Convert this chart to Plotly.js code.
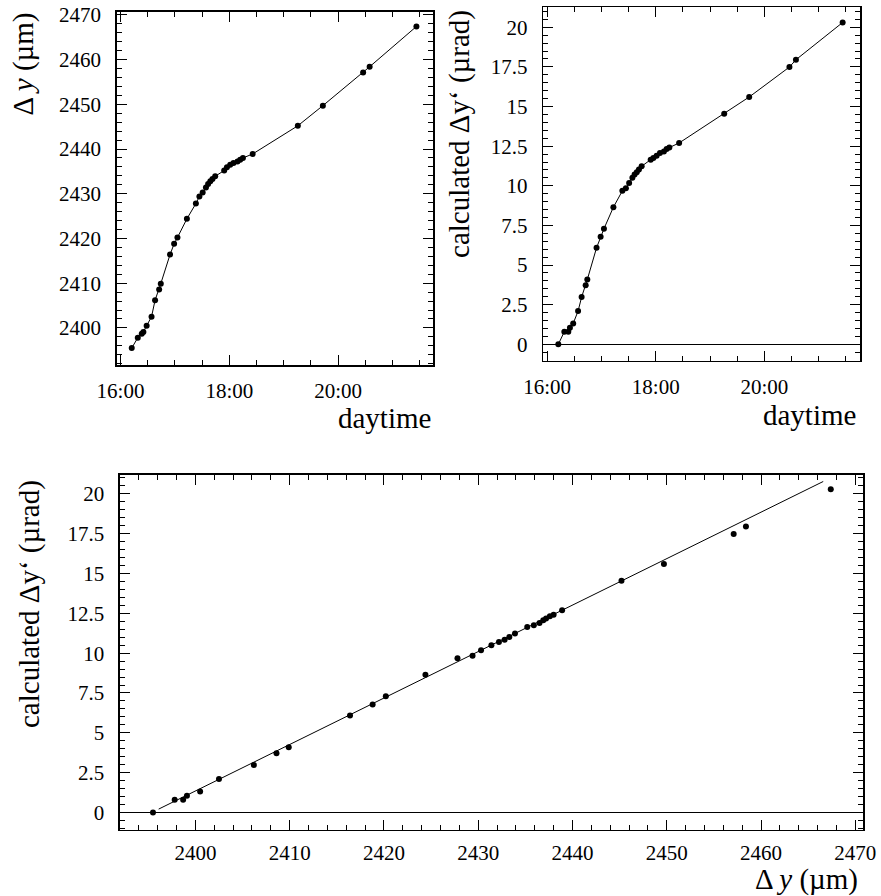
<!DOCTYPE html>
<html>
<head>
<meta charset="utf-8">
<script src="https://cdn.plot.ly/plotly-3.0.1.min.js"></script>
<style>html,body{margin:0;padding:0;background:#fff;}#chart{width:881px;height:896px;}</style>
</head>
<body>
<div id="chart"></div>
<script>
// time of day (decimal hours)
const time = [16.206,16.317,16.39,16.42,16.48,16.57,16.635,16.71,16.74,16.91,16.985,17.046,17.22,17.385,17.45,17.51,17.57,17.61,17.65,17.69,17.74,17.906,17.956,18.016,18.077,18.15,18.2,18.25,18.43,19.26,19.72,20.46,20.58,21.44];
// measured Δy (µm)
const dy = [2395.5,2397.8,2398.7,2399.1,2400.5,2402.5,2406.2,2408.6,2409.9,2416.4,2418.8,2420.2,2424.4,2427.8,2429.4,2430.3,2431.4,2432.2,2432.8,2433.3,2433.9,2435.2,2435.9,2436.5,2436.9,2437.2,2437.6,2438.0,2438.9,2445.2,2449.7,2457.1,2458.4,2467.4];
// calculated Δy' (µrad)
const dyp = [0,0.80,0.80,1.05,1.32,2.10,2.98,3.72,4.09,6.09,6.78,7.29,8.65,9.68,9.84,10.18,10.50,10.71,10.85,11.02,11.23,11.65,11.76,11.90,12.07,12.17,12.32,12.41,12.70,14.55,15.60,17.49,17.95,20.3];
// straight-line fit in the lower panel
const fitX = [2396.1, 2466.6];
const fitY = [0.21, 20.78];
// tick labels
const timeTicks = [16, 18, 20];
const timeLabels = ['16:00', '18:00', '20:00'];

const FONT = 'Liberation Serif';
const mk = {color: '#000', size: 6};
const ln = {color: '#000', width: 1};

const traces = [
  {x: time, y: dy, xaxis: 'x', yaxis: 'y', type: 'scatter', mode: 'lines+markers', marker: mk, line: ln},
  {x: time, y: dyp, xaxis: 'x2', yaxis: 'y2', type: 'scatter', mode: 'lines+markers', marker: mk, line: ln},
  {x: dy, y: dyp, xaxis: 'x3', yaxis: 'y3', type: 'scatter', mode: 'markers', marker: mk},
  {x: fitX, y: fitY, xaxis: 'x3', yaxis: 'y3', type: 'scatter', mode: 'lines', line: ln}
];

function ax(extra) {
  return Object.assign({
    showline: true, linecolor: '#000', linewidth: 1.5, mirror: 'ticks',
    ticks: 'inside', ticklen: 10, tickwidth: 1, tickcolor: '#000',
    showgrid: false, zeroline: false,
    tickfont: {family: FONT, size: 21, color: '#000'},
    minor: {ticks: 'inside', ticklen: 5, tickwidth: 1, tickcolor: '#000', showgrid: false}
  }, extra);
}

const layout = {
  width: 881, height: 896, autosize: false,
  margin: {l: 0, r: 0, t: 0, b: 0},
  paper_bgcolor: '#fff', plot_bgcolor: '#fff',
  showlegend: false,
  font: {family: FONT, color: '#000'},
  xaxis: ax({domain: [0.1325, 0.4918], range: [15.93, 21.75], anchor: 'y',
    tickmode: 'array', tickvals: timeTicks, ticktext: timeLabels, ticklabelstandoff: 6,
    minor: {ticks: 'inside', ticklen: 5, tickwidth: 1, tickcolor: '#000', tick0: 16, dtick: 0.5}}),
  yaxis: ax({domain: [0.5926, 0.9869], range: [2391.7, 2470.7], anchor: 'x',
    dtick: 10, tick0: 2400, ticklabelstandoff: 10,
    minor: {ticks: 'inside', ticklen: 5, tickwidth: 1, tickcolor: '#000', dtick: 2}}),
  xaxis2: ax({domain: [0.6167, 0.9762], range: [15.93, 21.76], anchor: 'y2',
    tickmode: 'array', tickvals: timeTicks, ticktext: timeLabels, ticklabelstandoff: 6,
    minor: {ticks: 'inside', ticklen: 5, tickwidth: 1, tickcolor: '#000', tick0: 16, dtick: 0.5}}),
  yaxis2: ax({domain: [0.5971, 0.9919], range: [-1.05, 21.26], anchor: 'x2',
    dtick: 2.5, tick0: 0, ticklabelstandoff: 10,
    zeroline: true, zerolinecolor: '#000', zerolinewidth: 1,
    minor: {ticks: 'inside', ticklen: 5, tickwidth: 1, tickcolor: '#000', dtick: 0.5}}),
  xaxis3: ax({domain: [0.1362, 0.9799], range: [2392, 2470.85], anchor: 'y3',
    dtick: 10, tick0: 2400, ticklabelstandoff: 3,
    minor: {ticks: 'inside', ticklen: 5, tickwidth: 1, tickcolor: '#000', dtick: 2}}),
  yaxis3: ax({domain: [0.0737, 0.4699], range: [-1.1, 21.19], anchor: 'x3',
    dtick: 2.5, tick0: 0, ticklabelstandoff: 10,
    zeroline: true, zerolinecolor: '#000', zerolinewidth: 1,
    minor: {ticks: 'inside', ticklen: 5, tickwidth: 1, tickcolor: '#000', dtick: 0.5}}),
  annotations: [
    {text: 'daytime', xref: 'paper', yref: 'paper', x: 0.4918, y: 0.5335, xanchor: 'right', yanchor: 'middle', showarrow: false, font: {family: FONT, size: 29, color: '#000'}},
    {text: 'daytime', xref: 'paper', yref: 'paper', x: 0.9739, y: 0.5368, xanchor: 'right', yanchor: 'middle', showarrow: false, font: {family: FONT, size: 29, color: '#000'}},
    {text: 'Δ <i>y</i> (µm)', xref: 'paper', yref: 'paper', x: 0.9762, y: 0.0179, xanchor: 'right', yanchor: 'middle', showarrow: false, font: {family: FONT, size: 29, color: '#000'}},
    {text: 'Δ <i>y</i> (µm)', xref: 'paper', yref: 'paper', x: 0.0272, y: 0.9888, xanchor: 'center', yanchor: 'top', textangle: -90, showarrow: false, font: {family: FONT, size: 29, color: '#000'}},
    {text: 'calculated Δy‘ (µrad)', xref: 'paper', yref: 'paper', x: 0.5221, y: 0.9911, xanchor: 'center', yanchor: 'top', textangle: -90, showarrow: false, font: {family: FONT, size: 29, color: '#000'}},
    {text: 'calculated Δy‘ (µrad)', xref: 'paper', yref: 'paper', x: 0.0329, y: 0.4665, xanchor: 'center', yanchor: 'top', textangle: -90, showarrow: false, font: {family: FONT, size: 29, color: '#000'}}
  ]
};

Plotly.newPlot('chart', traces, layout, {staticPlot: true, displayModeBar: false});
</script>
</body>
</html>
